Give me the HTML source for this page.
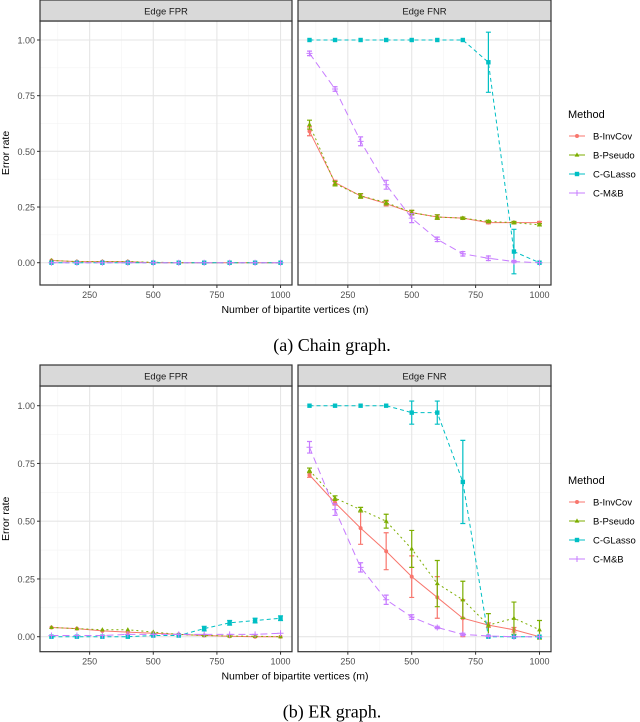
<!DOCTYPE html>
<html><head><meta charset="utf-8"><style>
body{margin:0;background:#fff;width:640px;height:722px;overflow:hidden}
svg{display:block}
text{font-family:"Liberation Sans",Arial,sans-serif}
text.serif{font-family:"Liberation Serif","DejaVu Serif",serif}
</style></head><body>
<svg id="c" width="640" height="722" xmlns="http://www.w3.org/2000/svg"></svg>
<script>
const xs=[100,200,300,400,500,600,700,800,900,1000];
const methods=["B-InvCov","B-Pseudo","C-GLasso","C-M&B"];
// Chain graph
const aFPR_inv=[0.01,0.005,0.005,0.005,0,0,0,0,0,0];
const aFPR_pse=[0.01,0.005,0.005,0.005,0.002,0,0,0,0,0];
const aFPR_gl=[0,0,0,0,0,0,0,0,0,0];
const aFPR_mb=[0,0,0,0,0,0,0,0,0,0];
const aFNR_inv=[0.59,0.36,0.30,0.265,0.225,0.205,0.20,0.18,0.18,0.18];
const aFNR_pse=[0.62,0.355,0.30,0.27,0.225,0.205,0.20,0.185,0.18,0.17];
const aFNR_gl=[1,1,1,1,1,1,1,0.90,0.05,0];
const aFNR_gl_err=[0,0,0,0,0,0,0,0.135,0.10,0];
const aFNR_mb=[0.94,0.78,0.545,0.35,0.20,0.105,0.04,0.02,0.005,0];
const aFNR_mb_err=[0.01,0.01,0.02,0.02,0.02,0.01,0.01,0.01,0.005,0];
const aFNR_inv_err=[0.02,0.01,0.01,0.01,0.01,0.01,0.005,0.005,0.005,0.005];
const aFNR_pse_err=[0.02,0.01,0.01,0.01,0.01,0.01,0.005,0.005,0.005,0.005];
// ER graph
const bFPR_inv=[0.04,0.035,0.025,0.02,0.015,0.01,0.005,0.002,0,0];
const bFPR_pse=[0.04,0.035,0.03,0.03,0.02,0.01,0.005,0.003,0.002,0];
const bFPR_gl=[0,0,0,0,0.005,0.005,0.035,0.06,0.07,0.08];
const bFPR_mb=[0.005,0.005,0.005,0.01,0.01,0.01,0.01,0.01,0.01,0.015];
const bFPR_gl_err=[0,0,0,0,0,0,0.01,0.01,0.01,0.01];
const bFNR_inv=[0.70,0.58,0.47,0.37,0.26,0.17,0.08,0.05,0.03,0];
const bFNR_inv_err=[0.01,0.01,0.07,0.08,0.09,0.09,0.08,0.01,0.01,0];
const bFNR_pse=[0.72,0.60,0.55,0.50,0.38,0.23,0.16,0.05,0.08,0.03];
const bFNR_pse_err=[0.01,0.01,0.01,0.03,0.08,0.10,0.08,0.05,0.07,0.04];
const bFNR_gl=[1,1,1,1,0.97,0.97,0.67,0,0,0];
const bFNR_gl_err=[0,0,0,0,0.05,0.05,0.18,0,0,0];
const bFNR_mb=[0.82,0.55,0.30,0.16,0.085,0.04,0.01,0.003,0,0];
const bFNR_mb_err=[0.025,0.025,0.02,0.02,0.01,0.005,0.005,0.002,0,0];
const yTicks=[0,0.25,0.5,0.75,1];
const xTicks=[250,500,750,1000];
const yTickLabels=["0.00","0.25","0.50","0.75","1.00"];

const colors=["#F8766D","#7CAE00","#00BFC4","#C77CFF"];
const dashes=["","2 3","4 3","7 4"];
const NS="http://www.w3.org/2000/svg";
const svg=document.getElementById('c');
function el(tag,attrs,parent,txt){const e=document.createElementNS(NS,tag);for(const k in attrs)e.setAttribute(k,attrs[k]);if(txt!==undefined)e.textContent=txt;(parent||svg).appendChild(e);return e;}
function marker(g,k,x,y,c){
  if(k===0){el('circle',{cx:x,cy:y,r:2,fill:c},g);}
  else if(k===1){el('polygon',{points:`${x},${y-2.6} ${x-2.4},${y+1.6} ${x+2.4},${y+1.6}`,fill:c},g);}
  else if(k===2){el('rect',{x:x-2.2,y:y-2.2,width:4.4,height:4.4,fill:c},g);}
  else {el('path',{d:`M${x-3},${y}H${x+3}M${x},${y-3}V${y+3}`,stroke:c,'stroke-width':1},g);}
}
function panel(px0,px1,top,y1px,y0px,bottom,title,series,errs,name){
  const g=el('g',{});
  
  
  const sx=m=>px0+(m-55)/(1045-55)*(px1-px0);
  const sy=v=>y0px+(y1px-y0px)*v;
  const ptop=top+21;
  el('rect',{x:px0,y:ptop,width:px1-px0,height:bottom-ptop,fill:'#fff'},g);
  [125,375,625,875].forEach(m=>el('line',{x1:sx(m),x2:sx(m),y1:ptop,y2:bottom,stroke:'#f3f3f3','stroke-width':0.6},g));
  [0.125,0.375,0.625,0.875].forEach(v=>el('line',{x1:px0,x2:px1,y1:sy(v),y2:sy(v),stroke:'#f3f3f3','stroke-width':0.6},g));
  xTicks.forEach(m=>el('line',{x1:sx(m),x2:sx(m),y1:ptop,y2:bottom,stroke:'#e6e6e6','stroke-width':1.1},g));
  yTicks.forEach(v=>el('line',{x1:px0,x2:px1,y1:sy(v),y2:sy(v),stroke:'#e6e6e6','stroke-width':1.1},g));
  series.forEach((arr,k)=>{
    const c=colors[k];
    const pts=xs.map((m,i)=>`${sx(m)},${sy(arr[i])}`).join(' ');
    const l=el('polyline',{points:pts,fill:'none',stroke:c,'stroke-width':1,'stroke-dasharray':dashes[k]},g);
    
    
    const e=errs[k];
    xs.forEach((m,i)=>{
      const x=sx(m),y=sy(arr[i]);
      if(e&&e[i]>0){const a=sy(arr[i]+e[i]),b=sy(arr[i]-e[i]);
        el('path',{d:`M${x},${a}V${b}M${x-2.5},${a}H${x+2.5}M${x-2.5},${b}H${x+2.5}`,stroke:c,'stroke-width':1.2,fill:'none'},g);}
      marker(g,k,x,y,c);
    });
  });
  el('rect',{x:px0,y:ptop,width:px1-px0,height:bottom-ptop,fill:'none',stroke:'#333','stroke-width':1.2},g);
  const s=el('rect',{x:px0,y:top,width:px1-px0,height:21,fill:'#d9d9d9',stroke:'#333','stroke-width':1.2},g);
  
  
  el('text',{x:(px0+px1)/2,y:top+14.5,'font-size':9.5,'text-anchor':'middle',fill:'#1a1a1a'},g,title);
  xTicks.forEach(m=>{el('line',{x1:sx(m),x2:sx(m),y1:bottom,y2:bottom+3,stroke:'#333'},g);
    el('text',{x:sx(m),y:bottom+13,'font-size':9,'text-anchor':'middle',fill:'#4d4d4d'},g,String(m));});
  return {sx,sy};
}
function chart(top,y1,y0,bottom,fpr,fprErr,fnr,fnrErr,caption,name,legTop){
  panel(40,292,top,y1,y0,bottom,"Edge FPR",fpr,fprErr,name+'-fpr-panel');
  panel(298,551,top,y1,y0,bottom,"Edge FNR",fnr,fnrErr,name+'-fnr-panel');
  yTicks.forEach((v,i)=>{const y=y0+(y1-y0)*v;
    el('line',{x1:37,x2:40,y1:y,y2:y,stroke:'#333'});
    el('text',{x:35,y:y+3.5,'font-size':9,'text-anchor':'end',fill:'#4d4d4d'},svg,yTickLabels[i]);});
  const yt=el('text',{x:0,y:0,'font-size':10.5,'text-anchor':'middle',fill:'#000',transform:`translate(9,${(top+21+bottom)/2}) rotate(-90)`},svg,"Error rate");
  
  const xt=el('text',{x:295,y:bottom+28,'font-size':10.5,'text-anchor':'middle',fill:'#000'},svg,"Number of bipartite vertices (m)");
  
  const cp=el('text',{x:332,y:bottom+66,'font-size':18,'text-anchor':'middle',fill:'#000','class':'serif',style:'font-family:"Liberation Serif","DejaVu Serif",serif'},svg,caption);
  
  const lg=el('g',{});
  
  el('text',{x:568,y:legTop,'font-size':11,fill:'#000'},lg,"Method");
  methods.forEach((m,k)=>{const y=legTop+18+k*19;
    el('line',{x1:569,x2:585,y1:y,y2:y,stroke:colors[k],'stroke-width':1});
    marker(lg,k,577,y,colors[k]);
    el('text',{x:593,y:y+3.5,'font-size':9.5,fill:'#000'},lg,m);});
}
chart(0,40,262.7,285,[aFPR_inv,aFPR_pse,aFPR_gl,aFPR_mb],[null,null,null,null],
  [aFNR_inv,aFNR_pse,aFNR_gl,aFNR_mb],[aFNR_inv_err,aFNR_pse_err,aFNR_gl_err,aFNR_mb_err],"(a) Chain graph.","chain",118);
chart(365,405.7,636.7,651.7,[bFPR_inv,bFPR_pse,bFPR_gl,bFPR_mb],[null,null,bFPR_gl_err,null],
  [bFNR_inv,bFNR_pse,bFNR_gl,bFNR_mb],[bFNR_inv_err,bFNR_pse_err,bFNR_gl_err,bFNR_mb_err],"(b) ER graph.","er",484);
</script>
</body></html>
